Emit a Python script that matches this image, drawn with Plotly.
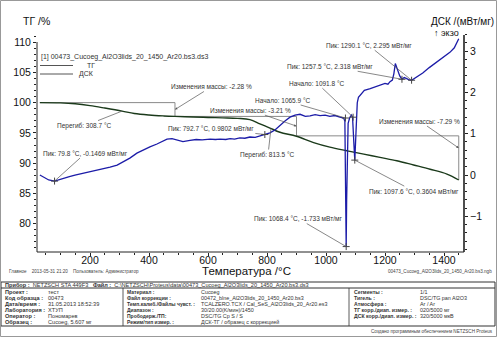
import plotly.graph_objects as go

# ---------------- data ----------------
tg_temp = [30, 100, 150, 200, 250, 308.7, 350, 400, 450, 488, 550, 600, 650, 700, 742, 776, 810, 844,
           900, 958, 1013, 1071, 1128, 1183, 1240, 1297, 1353, 1410, 1450]
tg_val = [100.0, 99.95, 99.8, 99.5, 99.1, 98.6, 98.2, 97.95, 97.8, 97.72, 97.62, 97.55, 97.48, 97.40,
          97.2, 96.5, 95.8, 95.1, 94.45, 93.4, 92.65, 92.05, 91.5, 90.95, 90.4, 89.7, 89.0, 88.2, 87.22]

dsc_temp = [30, 45, 60, 79.8, 95, 105, 130, 149, 175, 200, 234, 268, 292, 312, 335, 359, 380, 403, 427,
            447, 461, 478, 495, 515, 539, 560, 580, 607, 625, 641, 660, 675, 690, 708, 725, 742, 760, 776,
            792.7, 810, 827, 844, 861, 878, 895, 912, 930, 946, 963, 980, 997, 1013, 1030, 1047, 1060,
            1064, 1066, 1068.4, 1070, 1072, 1075, 1080, 1086, 1090, 1093, 1095, 1097.6, 1100, 1103, 1106,
            1110, 1120, 1130, 1150, 1170, 1183, 1200, 1210, 1217, 1225, 1230, 1235, 1240, 1245, 1250,
            1257.5, 1265, 1272, 1280, 1290.1, 1300, 1315, 1328, 1350, 1376, 1400, 1420, 1435, 1445, 1450]
dsc_val = [0.00, -0.07, -0.12, -0.147, -0.12, -0.10, -0.04, 0.00, 0.04, 0.07, 0.14, 0.19, 0.24, 0.31,
           0.41, 0.53, 0.61, 0.68, 0.75, 0.82, 0.87, 0.88, 0.85, 0.81, 0.84, 0.86, 0.85, 0.87, 0.86, 0.87,
           0.86, 0.88, 0.87, 0.90, 0.89, 0.92, 0.91, 0.94, 0.98, 1.02, 1.09, 1.21, 1.31, 1.40, 1.45, 1.47,
           1.42, 1.43, 1.46, 1.44, 1.45, 1.42, 1.44, 1.40, 1.38, 1.30, 0.40, -1.733, -0.6, 0.6, 1.25, 1.38,
           1.45, 1.40, 1.10, 0.70, 0.3604, 0.70, 1.40, 1.75, 1.88, 1.97, 2.05, 2.09, 2.14, 2.17, 2.22, 2.20,
           2.26, 2.30, 2.45, 2.70, 2.60, 2.45, 2.40, 2.318, 2.36, 2.34, 2.31, 2.295, 2.34, 2.40, 2.47, 2.60,
           2.74, 2.85, 2.97, 3.08, 3.22, 3.30]

# mass change steps (TG)
mass_start_temp = 30
mass_start_val = 100.0
mass_step_temp = [488, 900, 1450]
mass_step_change = [-2.28, -3.21, -7.29]

# DSC peaks
peak_temp = [79.8, 792.7, 1068.4, 1097.6, 1257.5, 1290.1]
peak_val = [-0.1469, 0.9802, -1.733, 0.3604, 2.318, 2.295]
onset_temp = [1065.9, 1091.8]
onset_val = [1.38, 1.40]
inflect_temp = [308.7, 813.5]
inflect_val = [98.6, 95.8]

x_ticks = [200, 400, 600, 800, 1000, 1200, 1400]
tg_ticks = [80, 85, 90, 95, 100, 105, 110]
dsc_ticks = [-1, 0, 1, 2, 3]

# ---------------- layout helpers ----------------
W, H = 497, 337
PL, PR, PT, PB = 37, 464, 34, 252
FONT = "Liberation Sans, Arial, sans-serif"
TG_COLOR = "#1b3a1b"
DSC_COLOR = "#1c1ca8"
GREY = "#8a8a8a"
TXT = "#333333"


def pxx(x):
    return (x - PL) / (PR - PL)


def pxy(y):
    return (PB - y) / (PB - PT)


# step line for mass change
sx = [mass_start_temp]
sy = [mass_start_val]
cur = mass_start_val
for t, d in zip(mass_step_temp, mass_step_change):
    sx += [t, t]
    sy += [cur, cur + d]
    cur = cur + d

fig = go.Figure()
fig.add_trace(go.Scatter(x=sx, y=sy, mode="lines", line=dict(color=GREY, width=1),
                         yaxis="y", showlegend=False, hoverinfo="skip"))
fig.add_trace(go.Scatter(x=tg_temp, y=tg_val, mode="lines", line=dict(color=TG_COLOR, width=1.4),
                         yaxis="y", name="ТГ", line_shape="spline", showlegend=False))
fig.add_trace(go.Scatter(x=dsc_temp, y=dsc_val, mode="lines", line=dict(color=DSC_COLOR, width=1.3),
                         yaxis="y2", name="ДСК", showlegend=False))
fig.add_trace(go.Scatter(x=peak_temp + onset_temp, y=peak_val + onset_val, mode="markers",
                         marker=dict(symbol="cross-thin", size=5, line=dict(color="#444", width=1)),
                         yaxis="y2", showlegend=False, hoverinfo="skip"))

levels = [mass_start_val]
for d in mass_step_change:
    levels.append(levels[-1] + d)

ann_specs = [
    (peak_temp[0], peak_val[0], "y2", f"Пик: {peak_temp[0]} °C, {peak_val[0]} мВт/мг", 31, -28, 0),
    (inflect_temp[0], inflect_val[0], "y", f"Перегиб: {inflect_temp[0]} °C", -38, 15, 0),
    (mass_step_temp[0], (levels[0] + levels[1]) / 2, "y", f"Изменения массы: {mass_step_change[0]} %", 37, -23, 2),
    (mass_step_temp[1], (levels[1] + levels[2]) / 2, "y", f"Изменения массы: {mass_step_change[1]} %", -46, -16, 2),
    (peak_temp[1], peak_val[1], "y2", f"Пик: {peak_temp[1]} °C, {peak_val[1]} мВт/мг", -54, -6, 0),
    (inflect_temp[1], inflect_val[1], "y", f"Перегиб: {inflect_temp[1]} °C", -3, 27, 0),
    (onset_temp[0], onset_val[0], "y2", f"Начало: {onset_temp[0]} °C", -62, -18, 0),
    (onset_temp[1], onset_val[1], "y2", f"Начало: {onset_temp[1]} °C", -36, -34, 0),
    (peak_temp[4], peak_val[4], "y2", f"Пик: {peak_temp[4]} °C, {peak_val[4]} мВт/мг", -72, -13, 0),
    (peak_temp[5], peak_val[5], "y2", f"Пик: {peak_temp[5]} °C, {peak_val[5]} мВт/мг", -43, -35, 0),
    (mass_step_temp[2], 92.5, "y", f"Изменения массы: {mass_step_change[2]} %", -39, -27, 2),
    (peak_temp[3], peak_val[3], "y2", f"Пик: {peak_temp[3]} °C, {peak_val[3]} мВт/мг", 59, 31, 0),
    (peak_temp[2], peak_val[2], "y2", f"Пик: {peak_temp[2]} °C, {peak_val[2]} мВт/мг", -48, -28, 0),
]

annotations = []
for x, y, yref, text, ax, ay, head in ann_specs:
    annotations.append(dict(x=x, y=y, xref="x", yref=yref, text=text, showarrow=True,
                            ax=ax, ay=ay, arrowhead=head, arrowsize=0.7, arrowwidth=0.7,
                            arrowcolor="#555", font=dict(family=FONT, size=6.5, color=TXT)))


def txt(x, y, s, size=6, anchor="left", color=TXT, yanchor="middle"):
    annotations.append(dict(x=pxx(x), y=pxy(y), xref="paper", yref="paper", text=s, showarrow=False,
                            xanchor=anchor, yanchor=yanchor, font=dict(family=FONT, size=size, color=color)))


# axis titles / labels
txt(36, 21, "ТГ /%", 10.5, "center", "#111")
txt(462, 21, "ДСК /(мВт/мг)", 10, "center", "#111")
txt(446, 33, "↑ экзо", 9, "center", "#111")
txt(246, 271, "Температура /°C", 11.5, "center", "#111")

# legend
txt(39, 57, "[1] 00473_Cucoeg_Al2O3lids_20_1450_Ar20.bs3.ds3", 7, "left", TXT)
txt(85, 65.5, "ТГ", 7, "left", TXT)
txt(77, 74, "ДСК", 7, "left", TXT)

# info lines
txt(7, 271, "Главное    2013-05-31 21:20    Пользователь: Администратор", 4.6, "left", "#444")
txt(494, 271, "00473_Cucoeg_Al2O3lids_20_1450_Ar20.bs3.ngb", 4.6, "right", "#444")

# table
txt(3, 285, "<b>Прибор :</b>  NETZSCH STA 449F3   <b>Файл :</b>  C:\\NETZSCH\\Proteus\\data\\00473_Cucoeg_Al2O3lids_20_1450_Ar20.bs3.ds3", 5.6)
row_y = [292, 298, 304, 310, 316, 322]
left_lab = ["Проект :", "Код образца :", "Дата/время :", "Лаборатория :", "Оператор :", "Образец :"]
left_val = ["тест", "00473", "31.05.2013 18:52:39", "ХТУП", "Пономарев", "Cucoeg, 5.607 мг"]
mid_lab = ["Материал :", "Файл коррекции :", "Темп.калиб./Файлы чувст. :", "Диапазон :", "Прободерж./ТП:",
           "Режим/тип измер. :"]
mid_val = ["Cucoeg", "00472_blne_Al2O3lids_20_1450_Ar20.bs3", "TCALZERO.TCX / Cal_SeS_Al2O3lids_20_Ar20.es3",
           "30/20.00(K/мин)/1450", "DSC/TG Cp S / S", "ДСК-ТГ / образец с коррекцией"]
right_lab = ["Сегменты :", "Тигель :", "Атмосфера :", "ТГ корр./диап. измер. :", "ДСК корр./диап. измер. :"]
right_val = ["1/1", "DSC/TG pan Al2O3", "Ar / Ar", "020/5000 мг", "320/5000 мкВ"]
for i, y in enumerate(row_y):
    txt(3, y, f"<b>{left_lab[i]}</b>", 5.6)
    txt(46, y, left_val[i], 5.6)
    txt(125, y, f"<b>{mid_lab[i]}</b>", 5.0)
    txt(199, y, mid_val[i], 5.4)
    if i < len(right_lab):
        txt(352, y, f"<b>{right_lab[i]}</b>", 5.2)
        txt(418, y, right_val[i], 5.4)
txt(495, 331, "Создано программным обеспечением NETZSCH Proteus", 4.6, "right", "#444")

# ---------------- shapes ----------------
shapes = []


def pline(x0, y0, x1, y1, color="#222", width=1):
    shapes.append(dict(type="line", xref="paper", yref="paper", x0=pxx(x0), y0=pxy(y0), x1=pxx(x1),
                       y1=pxy(y1), line=dict(color=color, width=width)))


def prect(x0, y0, x1, y1, color="#222", width=1):
    shapes.append(dict(type="rect", xref="paper", yref="paper", x0=pxx(x0), y0=pxy(y0), x1=pxx(x1),
                       y1=pxy(y1), line=dict(color=color, width=width)))


# axis lines
pline(37, 42, 37, 252, "#222", 1)
pline(464, 35, 464, 252, "#222", 1.6)
pline(37, 252, 464, 252, "#222", 1)
# legend swatches
pline(40, 65.5, 73, 65.5, "#555", 1)
pline(40, 74, 73, 74, "#555", 1)
# table
prect(1, 282, 495, 326, "#333", 1)
pline(1, 288, 495, 288, "#333", 1)
pline(123, 288, 123, 326, "#333", 0.8)
pline(349, 288, 349, 326, "#333", 0.8)
# image frame
prect(0.5, 0.5, 496.5, 336.5, "#999", 1)

fig.update_layout(
    width=W, height=H,
    margin=dict(l=PL, r=W - PR, t=PT, b=H - PB, pad=0),
    paper_bgcolor="white", plot_bgcolor="white",
    font=dict(family=FONT, size=10.5, color="#111"),
    showlegend=False,
    xaxis=dict(range=[20.3, 1467.8], tickvals=x_ticks, ticks="outside", ticklen=3, tickcolor="#222",
               showline=False, showgrid=False, zeroline=False, automargin=False,
               ticklabelstandoff=-5,
               minor=dict(dtick=50, tick0=0, ticks="outside", ticklen=2, tickcolor="#222"),
               tickfont=dict(size=10.5)),
    yaxis=dict(range=[75.33, 111.33], tickvals=tg_ticks, ticks="outside", ticklen=3, tickcolor="#222",
               showline=False, showgrid=False, zeroline=False, automargin=False,
               minor=dict(dtick=1, tick0=0, ticks="outside", ticklen=2, tickcolor="#222"),
               tickfont=dict(size=10.5)),
    yaxis2=dict(range=[-1.864, 3.414], tickvals=dsc_ticks, ticks="outside", ticklen=3, tickcolor="#222",
                overlaying="y", side="right", anchor="x", showline=False, showgrid=False, zeroline=False,
                automargin=False,
                minor=dict(dtick=0.2, tick0=0, ticks="outside", ticklen=2, tickcolor="#222"),
                tickfont=dict(size=10.5)),
    annotations=annotations,
    shapes=shapes,
)

fig.write_html("out.html", config={"displayModeBar": False},
               post_script="document.body.style.margin='0px';document.body.style.overflow='hidden';")
